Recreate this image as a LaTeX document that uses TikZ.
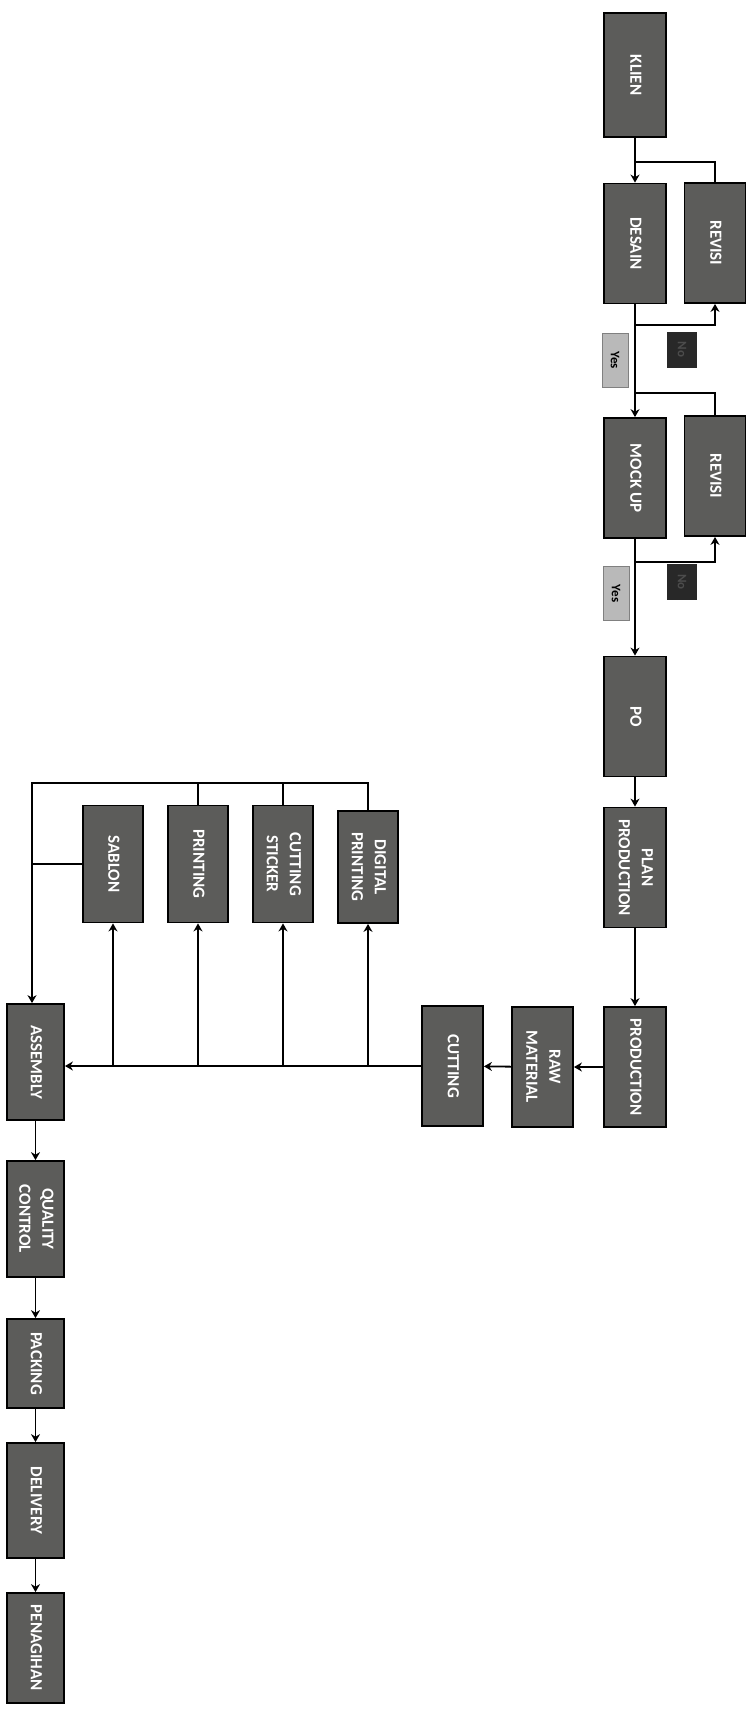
\documentclass[tikz,border=0pt]{standalone}
\usepackage{fontspec}
\setmainfont{Carlito}
\usepackage{graphicx}
\usetikzlibrary{arrows.meta,positioning}
\definecolor{boxgray}{RGB}{92,92,90}
\definecolor{yesgray}{RGB}{185,185,185}
\definecolor{nogray}{RGB}{40,40,40}
\newcommand{\vtxt}[1]{\rotatebox{-90}{\begin{tabular}{@{}c@{}}#1\end{tabular}}}

\begin{document}
\begin{tikzpicture}[x=1pt, y=-1pt,
    every node/.style={font=\bfseries\fontsize{17}{23}\selectfont},
    box/.style={rectangle, draw, line width=1.8pt, fill=boxgray, text=white,
                minimum width=62pt, minimum height=120pt, inner sep=0pt},
    lowbox/.style={box, minimum width=57pt, minimum height=116pt},
    yesbox/.style={rectangle, draw=gray, fill=yesgray, minimum width=26pt,
                   minimum height=54pt, inner sep=0pt, text=black,
                   font=\bfseries\fontsize{13}{15}\selectfont},
    nobox/.style={rectangle, fill=nogray, minimum width=30pt, minimum height=36pt,
                  inner sep=0pt, text=black!70, font=\bfseries\fontsize{13}{15}\selectfont},
    e/.style={line width=1.8pt, -{Stealth[length=8pt, width=9pt]}},
    ln/.style={line width=1.8pt},
  ]
  \useasboundingbox (0,0) rectangle (747,1713);
  \node[box, minimum height=124pt] (klien) at (635, 75) {\vtxt{KLIEN}};
  \node[box] (desain) at (635, 243.5) {\vtxt{DESAIN}};
  \node[box, minimum width=61pt] (revA) at (715, 243) {\vtxt{REVISI}};
  \node[box] (mockup) at (635, 478) {\vtxt{MOCK UP}};
  \node[box, minimum width=61pt] (revB) at (715, 476) {\vtxt{REVISI}};
  \node[box] (po) at (635, 716.5) {\vtxt{PO}};
  \node[box] (plan) at (635, 867.5) {\vtxt{PLAN\\PRODUCTION}};
  \node[box] (production) at (635, 1067) {\vtxt{PRODUCTION}};
  \node[box, minimum width=61pt] (raw) at (542.5, 1067) {\vtxt{RAW\\MATERIAL}};
  \node[box, minimum width=61pt] (cutting) at (452.5, 1066) {\vtxt{CUTTING}};
  \node[box, minimum width=60pt, minimum height=117pt] (sablon) at (113, 864) {\vtxt{SABLON}};
  \node[box, minimum width=60pt, minimum height=117pt] (printing) at (198, 864) {\vtxt{PRINTING}};
  \node[box, minimum width=60pt, minimum height=117pt] (sticker) at (283, 864) {\vtxt{CUTTING\\STICKER}};
  \node[box, minimum width=60pt, minimum height=112pt] (digital) at (368, 867) {\vtxt{DIGITAL\\PRINTING}};
  \node[lowbox] (assembly) at (35.5, 1062) {\vtxt{ASSEMBLY}};
  \node[lowbox] (qc) at (35.5, 1219) {\vtxt{QUALITY\\CONTROL}};
  \node[lowbox, minimum height=89pt] (packing) at (35.5, 1363.5) {\vtxt{PACKING}};
  \node[lowbox, minimum height=115pt] (delivery) at (35.5, 1500.5) {\vtxt{DELIVERY}};
  \node[lowbox, minimum height=110pt] (penagihan) at (35.5, 1648) {\vtxt{PENAGIHAN}};
  \node[yesbox] (yesA) at (615, 360) {\rotatebox{-90}{Yes}};
  \node[yesbox] (yesB) at (616, 593.5) {\rotatebox{-90}{Yes}};
  \node[nobox] (noA) at (682, 349.5) {\rotatebox{-90}{No}};
  \node[nobox] (noB) at (682, 582) {\rotatebox{-90}{No}};
  \coordinate (jA) at (635, 162);
  \coordinate (bA) at (635, 325);
  \coordinate (jB) at (635, 393);
  \coordinate (bB) at (635, 562);
  \coordinate (tl) at (32, 783);
  \draw[e] (klien) -- (desain);
  \draw[ln] (revA.north) |- (jA);
  \draw[e] (desain) -- (mockup);
  \draw[e] (bA) -| (revA.south);
  \draw[ln] (revB.north) |- (jB);
  \draw[e] (mockup) -- (po);
  \draw[e] (bB) -| (revB.south);
  \draw[e] (po) -- (plan);
  \draw[e] (plan) -- (production);
  \draw[e] (production) -- (raw);
  \draw[e] (raw) -- (cutting);
  \draw[e] (cutting.west) -- (cutting.west -| assembly.east);
  \foreach \n in {sablon, printing, sticker, digital}
    \draw[e] (\n.south |- cutting.west) -- (\n.south);
  \draw[e] (digital.north) |- (tl) -- (tl |- assembly.north);
  \draw[ln] (printing.north) -- (printing.north |- tl);
  \draw[ln] (sticker.north) -- (sticker.north |- tl);
  \draw[ln] (sablon.west) -- (sablon.west -| tl);
  \draw[e] (assembly) -- (qc);
  \draw[e] (qc) -- (packing);
  \draw[e] (packing) -- (delivery);
  \draw[e] (delivery) -- (penagihan);
\end{tikzpicture}
\end{document}
